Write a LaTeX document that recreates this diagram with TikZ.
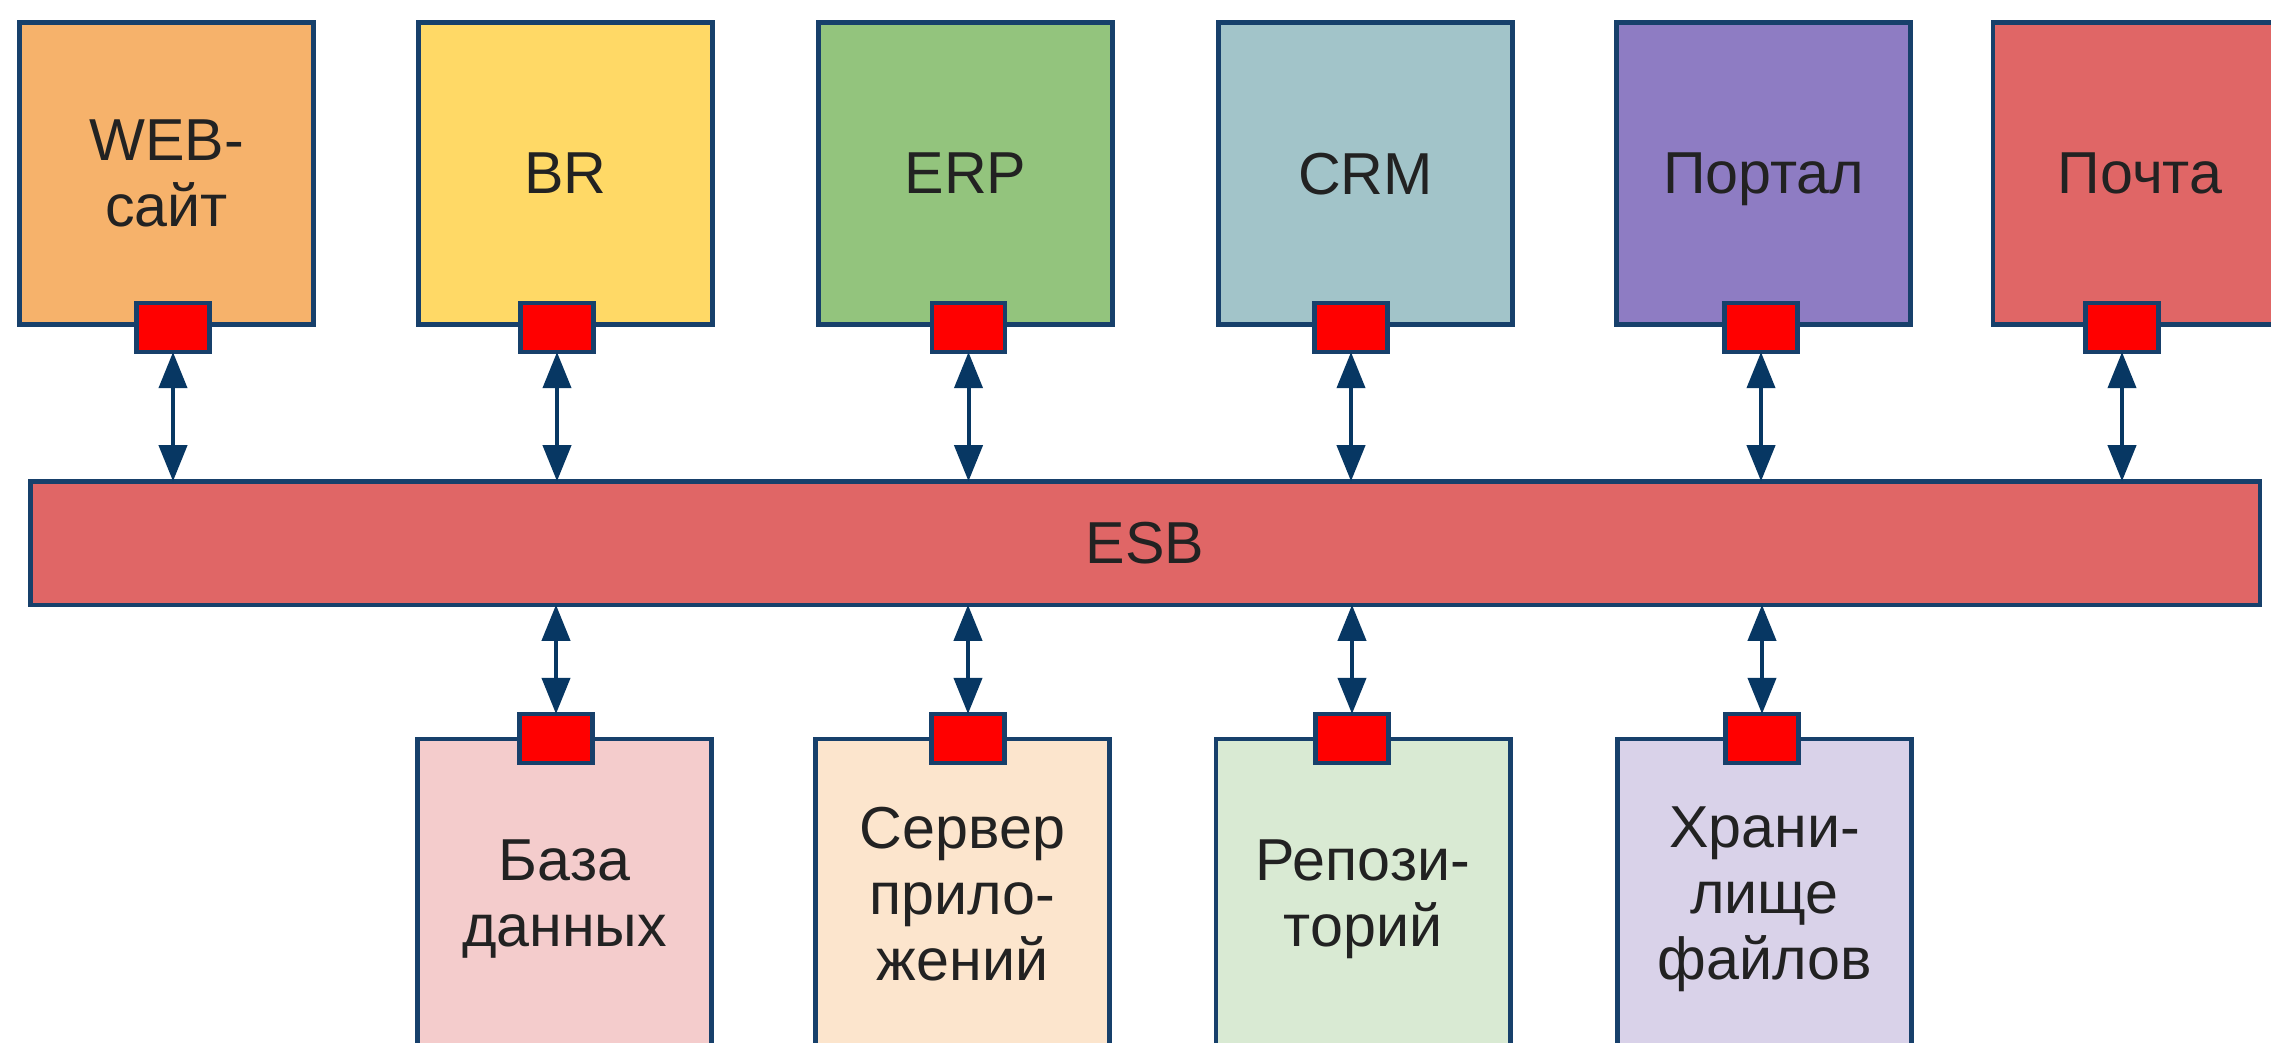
\documentclass[tikz,border=0pt]{standalone}
\usepackage{fontspec}
\setmainfont{Liberation Sans}
\usetikzlibrary{arrows.meta}
\definecolor{bord}{HTML}{17406B}
\definecolor{arr}{HTML}{073763}
\definecolor{txt}{HTML}{222222}
\definecolor{cWeb}{HTML}{F6B26B}
\definecolor{cBR}{HTML}{FFD966}
\definecolor{cERP}{HTML}{93C47D}
\definecolor{cCRM}{HTML}{A2C4C9}
\definecolor{cPort}{HTML}{8E7CC3}
\definecolor{cMail}{HTML}{E06666}
\definecolor{cESB}{HTML}{E06666}
\definecolor{cDB}{HTML}{F4CCCC}
\definecolor{cSrv}{HTML}{FCE5CD}
\definecolor{cRep}{HTML}{D9EAD3}
\definecolor{cFile}{HTML}{D9D2E9}
\begin{document}
\begin{tikzpicture}[x=0.25pt,y=-0.25pt,
  box/.style={draw=bord, line width=1.15pt, minimum width=73.6pt, minimum height=75.6pt,
    inner sep=0pt, outer sep=0pt, align=center, text=txt,
    font=\fontsize{14.8}{16.5}\selectfont, text depth=0pt},
  lowbox/.style={box, minimum height=77.2pt},
  bus/.style={box, minimum width=557.4pt, minimum height=30.9pt},
  port/.style={draw=bord, line width=1.15pt, fill=red, minimum width=18.3pt,
    minimum height=12.3pt, inner sep=0pt, outer sep=0pt},
  conn/.style={draw=arr, line width=1pt,
    {Triangle[length=9pt,width=7pt]}-{Triangle[length=9pt,width=7pt]}}]
\useasboundingbox (0,0) rectangle (2271,1042);
\clip (0,0) rectangle (2271,1042);
\fill[white] (0,0) rectangle (2271,1042);

% top systems
\node[box, fill=cWeb]  (web)  at (166.5,173.5) {WEB-\\сайт};
\node[box, fill=cBR]   (br)   at (565.5,173.5) {BR};
\node[box, fill=cERP]  (erp)  at (965.5,173.5) {ERP};
\node[box, fill=cCRM]  (crm)  at (1365.5,173.5) {CRM};
\node[box, fill=cPort] (port) at (1763.5,173.5) {Портал};
\node[box, fill=cMail] (mail) at (2140,173.5) {Почта};

% bus
\node[bus, fill=cESB] (esb) at (1145,543) {ESB};

% bottom systems
\node[lowbox, fill=cDB]   (db)   at (564.5,893.5) {База\\данных};
\node[lowbox, fill=cSrv]  (srv)  at (962.5,893.5) {Сервер\\прило-\\жений};
\node[lowbox, fill=cRep]  (rep)  at (1363,893.5) {Репози-\\торий};
\node[lowbox, fill=cFile] (file) at (1764.5,893.5) {Храни-\\лище\\файлов};

% ports top
\node[port] (pweb)  at (173,327.5) {};
\node[port] (pbr)   at (557,327.5) {};
\node[port] (perp)  at (968.5,327.5) {};
\node[port] (pcrm)  at (1351,327.5) {};
\node[port] (pport) at (1761,327.5) {};
\node[port] (pmail) at (2122,327.5) {};

% ports bottom
\node[port] (pdb)   at (556,738.5) {};
\node[port] (psrv)  at (968,738.5) {};
\node[port] (prep)  at (1352,738.5) {};
\node[port] (pfile) at (1762,738.5) {};

% connectors
\foreach \p in {pweb,pbr,perp,pcrm,pport,pmail}
  \draw[conn] (\p.south) -- (\p.south |- esb.north);
\foreach \p in {pdb,psrv,prep,pfile}
  \draw[conn] (\p.north |- esb.south) -- (\p.north);
\end{tikzpicture}
\end{document}
